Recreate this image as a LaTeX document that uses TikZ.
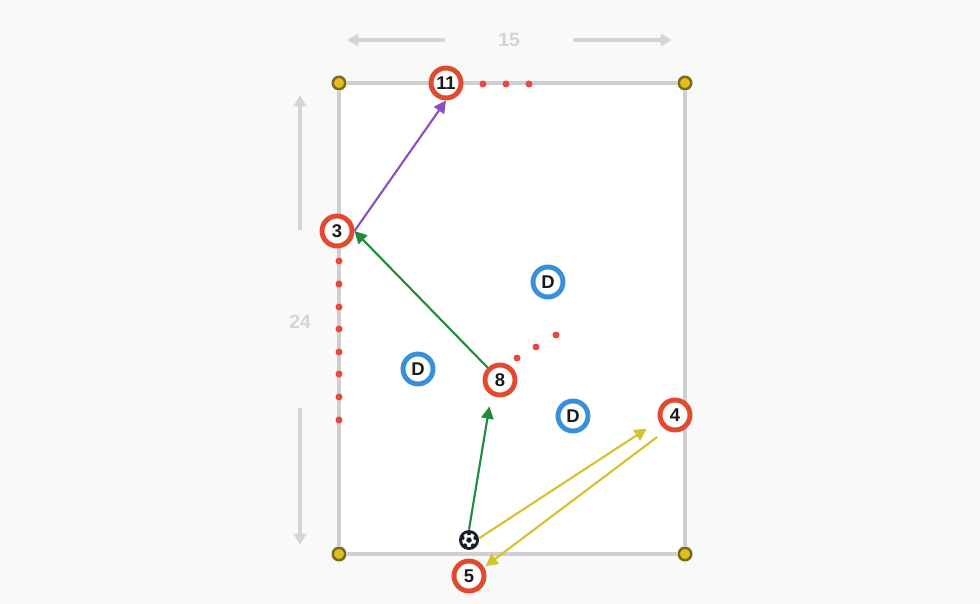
\documentclass[tikz,border=0pt]{standalone}
\usepackage{fontspec}
\setmainfont{Liberation Sans}
\usetikzlibrary{arrows.meta,calc}

\definecolor{bggray}{HTML}{F9F9F9}
\definecolor{linegray}{HTML}{CFCFCF}
\definecolor{dimgray}{HTML}{D5D5D5}
\definecolor{ringred}{HTML}{E2492F}
\definecolor{dotred}{HTML}{E8483E}
\definecolor{ringblue}{HTML}{3A8FDA}
\definecolor{passgreen}{HTML}{1F8B3B}
\definecolor{passpurple}{HTML}{8A4FC2}
\definecolor{passyellow}{HTML}{D6C22A}
\definecolor{conefill}{HTML}{E0BE1E}
\definecolor{conedraw}{HTML}{7A6A18}
\definecolor{balldark}{HTML}{1C1C2C}

\begin{document}
\begin{tikzpicture}[
  x=0.02cm, y=-0.02cm,
  font=\bfseries\fontsize{10.5}{10.5}\selectfont,
  >={Triangle[length=7pt,width=7pt]},
  player/.style={circle, draw=ringred, line width=2.8pt, fill=white, text=black!90, minimum size=0.6cm, inner sep=0pt},
  defender/.style={player, draw=ringblue},
  cone/.style={circle, draw=conedraw, line width=1.4pt, fill=conefill, minimum size=0.25cm, inner sep=0pt},
  rundot/.style={circle, fill=dotred, inner sep=0pt, minimum size=0.14cm},
  fieldline/.style={linegray, line width=2.8pt},
  dim/.style={->, dimgray, line width=2.3pt, >={Triangle[length=6.5pt,width=7pt]}},
  dimlabel/.style={text=dimgray, font=\bfseries\fontsize{11}{11}\selectfont},
  pass/.style={->, line width=1.2pt},
  ballnode/.style={circle, fill=balldark, minimum size=0.4cm, inner sep=0pt},
]
\useasboundingbox (0,0) rectangle (980,604);
\fill[bggray] (0,0) rectangle (980,604);
\fill[white] (339,83) rectangle (685,554);

% Corner cones
\node[cone] (c1) at (339,83)  {};
\node[cone] (c2) at (685,83)  {};
\node[cone] (c3) at (685,554) {};
\node[cone] (c4) at (339,554) {};

% Field lines
\draw[fieldline] (c1) -- (c2);
\draw[fieldline] (c2) -- (c3);
\draw[fieldline] (c3) -- (c4);
\draw[fieldline] (c4) -- (c1);

% Dimensions: 15 across, 24 down
\node[dimlabel] (w15) at (509,40)  {15};
\coordinate (w15l) at (347,40);
\coordinate (w15r) at (672,40);
\draw[dim] (445,40) -- (w15l);
\draw[dim] (573,40) -- (w15r);

\node[dimlabel] (h24) at (300,322) {24};
\coordinate (h24t) at (300,95);
\coordinate (h24b) at (300,545);
\draw[dim] (300,230) -- (h24t);
\draw[dim] (300,408) -- (h24b);

% Runs (red dots)
\foreach \x in {483,506,529} \node[rundot] at (\x,84) {};
\foreach \y in {261,284,307,329,352,374,397,420} \node[rundot] at (339,\y) {};
\node[rundot] at (517,358) {};
\node[rundot] at (536,347) {};
\node[rundot] at (556,335) {};

% Players and defenders
\node[player] (p11) at (446,83)  {11};
\node[player] (p3)  at (337,231) {3};
\node[player] (p8)  at (500,380) {8};
\node[player] (p4)  at (675,415) {4};
\node[player] (p5)  at (469,576) {5};

\node[defender] (d1) at (548,282) {D};
\node[defender] (d2) at (418,369) {D};
\node[defender] (d3) at (573,416) {D};

% Ball
\node[ballnode] (ball) at (469,540) {};
\fill[white] (ball) circle (7);
\fill[balldark] (ball) +(90:3) -- +(162:3) -- +(234:3) -- +(306:3) -- +(18:3) -- cycle;
\foreach \a in {54,126,198,270,342} \fill[balldark] (ball) +(\a:7) circle (2.3);

% Passes
\draw[pass, passpurple] (p3.east) -- (p11.south);
\draw[pass, passgreen] (p8.north west) -- (p3.east);
\draw[pass, passgreen, shorten >=6.5pt] (ball.north) -- (p8.240);
\draw[pass, passyellow, shorten >=8pt] (ball.10) -- (p4.200);
\draw[pass, passyellow, shorten <=6.5pt, shorten >=1pt] (p4.240) -- (p5.30);

\end{tikzpicture}
\end{document}
